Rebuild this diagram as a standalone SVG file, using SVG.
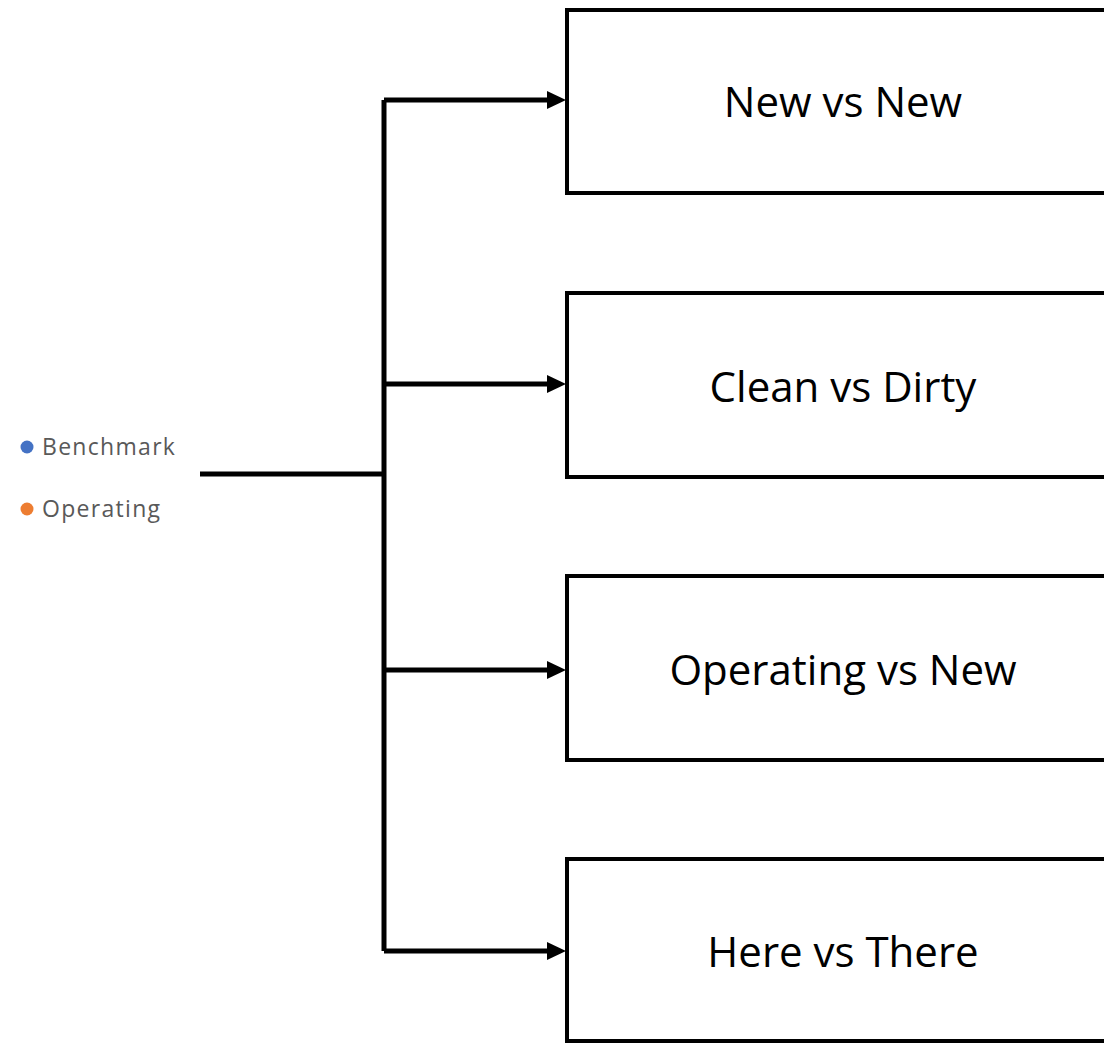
<svg xmlns="http://www.w3.org/2000/svg" width="1104" height="1043" viewBox="0 0 1104 1043">
<style>
.box{fill:#fff;stroke:#000;stroke-width:4}
.lbl{font-family:"Open Sans","Liberation Sans",sans-serif;font-size:42px;fill:#000;text-anchor:middle}
.leg{font-family:"Open Sans","Liberation Sans",sans-serif;font-size:23px;fill:#595959;letter-spacing:1.3px}
.wire{fill:none;stroke:#000;stroke-width:5;stroke-linejoin:round}
.head{fill:#000}
</style>
<rect width="1104" height="1043" fill="#fff"/>
<g id="legend">
<circle cx="27" cy="447" r="6.5" fill="#4472C4"/>
<text class="leg" x="42" y="455">Benchmark</text>
<circle cx="27" cy="509" r="6.5" fill="#ED7D31"/>
<text class="leg" x="42" y="517">Operating</text>
</g>
<g id="connectors">
<path class="wire" d="M200 474 H384"/>
<path class="wire" d="M384 100 V951"/>
<path class="wire" d="M384 100 H550"/>
<path class="wire" d="M384 384 H550"/>
<path class="wire" d="M384 670 H550"/>
<path class="wire" d="M384 951 H550"/>
<path class="head" d="M547 91 L566 100 L547 109 Z"/>
<path class="head" d="M547 375 L566 384 L547 393 Z"/>
<path class="head" d="M547 661 L566 670 L547 679 Z"/>
<path class="head" d="M547 942 L566 951 L547 960 Z"/>
</g>
<g id="node-new-vs-new">
<rect class="box" x="567" y="10" width="560" height="183"/>
<text class="lbl" x="843" y="117">New vs New</text>
</g>
<g id="node-clean-vs-dirty">
<rect class="box" x="567" y="293" width="560" height="184"/>
<text class="lbl" x="843" y="402">Clean vs Dirty</text>
</g>
<g id="node-operating-vs-new">
<rect class="box" x="567" y="576" width="560" height="184"/>
<text class="lbl" x="843" y="685">Operating vs New</text>
</g>
<g id="node-here-vs-there">
<rect class="box" x="567" y="859" width="560" height="182"/>
<text class="lbl" x="843" y="967">Here vs There</text>
</g>
</svg>
